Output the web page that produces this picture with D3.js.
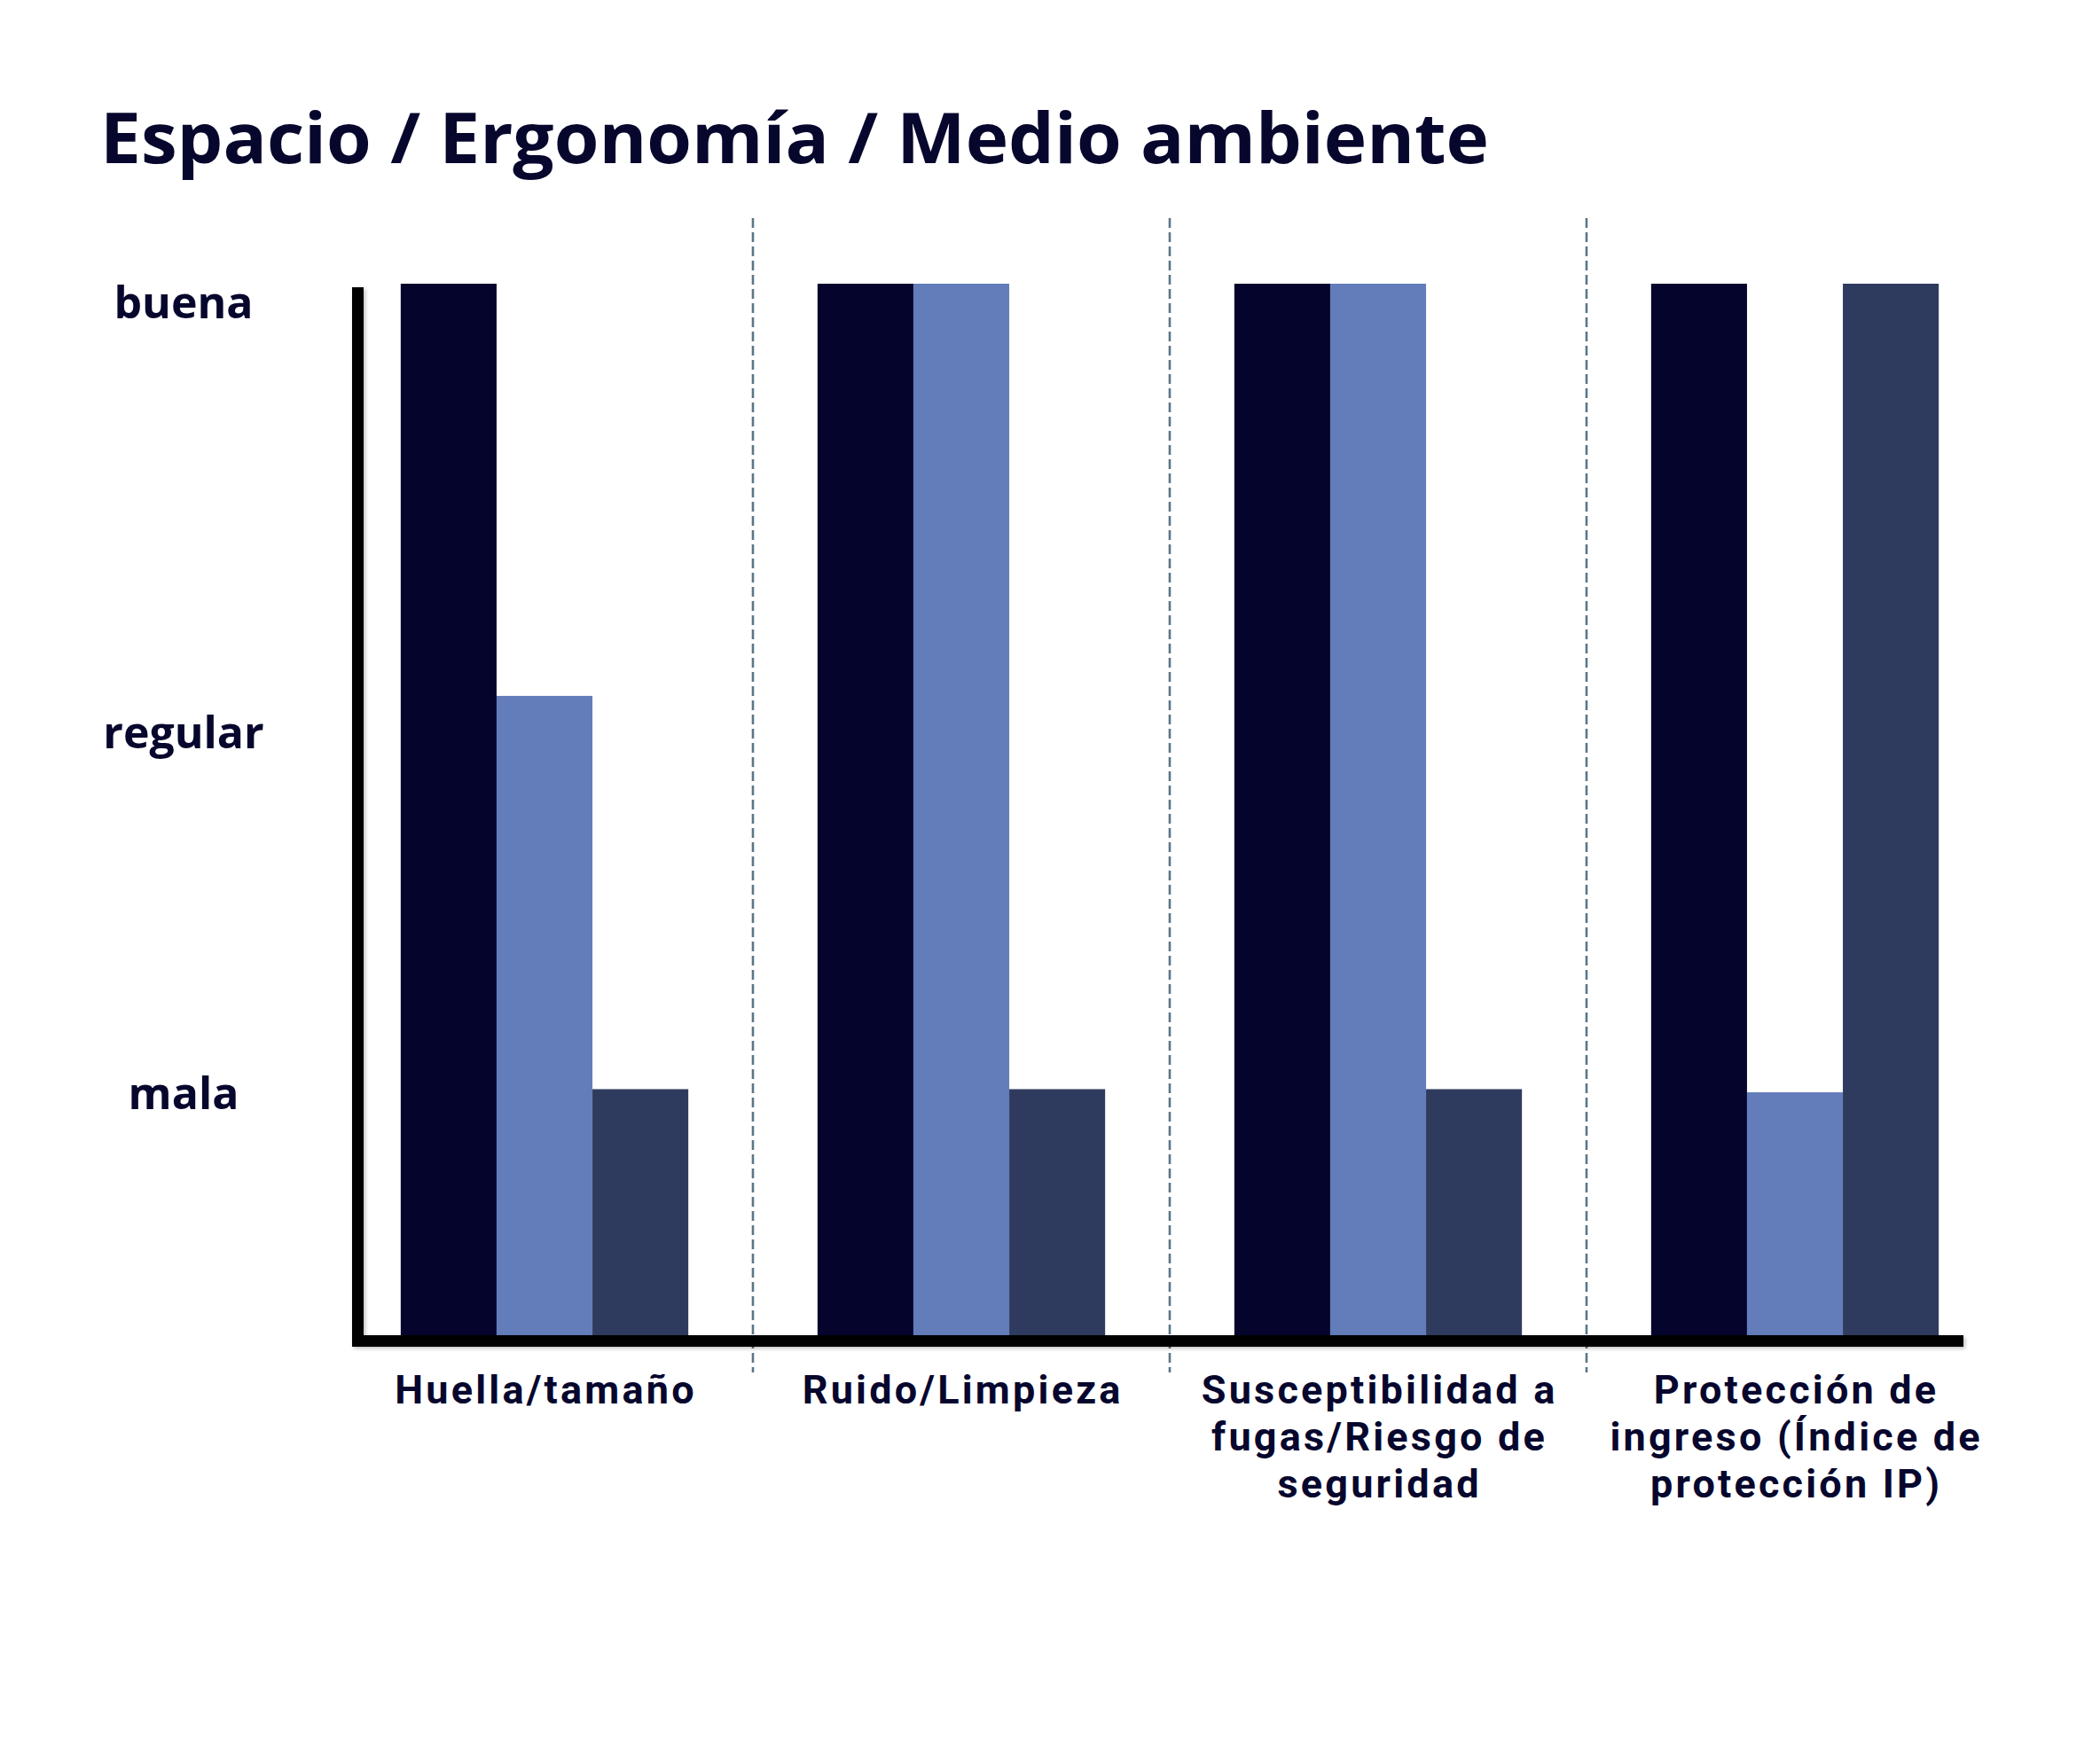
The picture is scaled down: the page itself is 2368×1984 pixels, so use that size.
<!DOCTYPE html>
<html>
<head>
<meta charset="utf-8">
<script src="https://cdn.jsdelivr.net/npm/d3@7"></script>
<style>
  html, body { margin: 0; padding: 0; background: #ffffff; }
  svg { display: block; }
  text { font-family: "Open Sans", "DejaVu Sans", sans-serif; font-weight: 700; fill: #07072e; }
  text.cat { font-family: Roboto, "Open Sans", sans-serif; }
</style>
</head>
<body>
<div id="chart"></div>
<script>
// ---------- data ----------
const title = "Espacio / Ergonomía / Medio ambiente";
const categories = ["Huella/tamaño", "Ruido/Limpieza", "Susceptibilidad a fugas/Riesgo de seguridad", "Protección de ingreso (Índice de protección IP)"];
const categoryLines = [
  ["Huella/tamaño"],
  ["Ruido/Limpieza"],
  ["Susceptibilidad a", "fugas/Riesgo de", "seguridad"],
  ["Protección de", "ingreso (Índice de", "protección IP)"]
];
const seriesNames = ["Serie 1", "Serie 2", "Serie 3"];
const series1 = [100, 100, 100, 100];
const series2 = [60.8, 100, 100, 23.1];
const series3 = [23.4, 23.4, 23.4, 100];
const levelLabels = ["buena", "regular", "mala"];
const levelLabelValues = [96.7, 55.8, 21.5];
const seriesColors = ["#04042c", "#637cba", "#2f3b5e"];

// ---------- layout ----------
const W = 2368, H = 1984;
const svg = d3.select("#chart").append("svg").attr("width", W).attr("height", H);
svg.append("rect").attr("width", W).attr("height", H).attr("fill", "#fff");

const y = d3.scaleLinear().domain([0, 100]).range([1506, 320]);
const x0 = d3.scaleBand().domain(categories).range([379, 2259]).paddingInner(0.31).paddingOuter(0.155);
const x1 = d3.scaleBand().domain(seriesNames).range([0, x0.bandwidth()]);

const allSeries = [series1, series2, series3];
const rows = categories.map((c, i) => ({
  cat: c,
  vals: seriesNames.map((s, j) => ({ s, v: allSeries[j][i], color: seriesColors[j] }))
}));

// title
svg.append("text")
  .attr("x", 113).attr("y", 184)
  .attr("font-size", 78)
  .attr("textLength", 1566)
  .attr("lengthAdjust", "spacingAndGlyphs")
  .text(title);

// dashed separators between groups
const step = x0.step();
const seps = categories.slice(1).map(c => x0(c) - step * x0.paddingInner() / 2);
svg.append("g").selectAll("line").data(seps).join("line")
  .attr("x1", d => d).attr("x2", d => d)
  .attr("y1", 246).attr("y2", 1548)
  .attr("stroke", "#5b7686").attr("stroke-width", 2.6)
  .attr("stroke-dasharray", "11,5");

// bars
const g = svg.append("g").selectAll("g").data(rows).join("g")
  .attr("transform", d => `translate(${x0(d.cat)},0)`);
g.selectAll("rect").data(d => d.vals).join("rect")
  .attr("x", d => x1(d.s))
  .attr("width", x1.bandwidth())
  .attr("y", d => y(d.v))
  .attr("height", d => y(0) - y(d.v))
  .attr("fill", d => d.color);

// axes (thick black with soft shadow)
const defs = svg.append("defs");
const f = defs.append("filter").attr("id", "sh").attr("x", "-5%").attr("y", "-5%").attr("width", "110%").attr("height", "110%");
f.append("feDropShadow").attr("dx", 2).attr("dy", 2).attr("stdDeviation", 2).attr("flood-color", "#000").attr("flood-opacity", 0.25);
const axisG = svg.append("g").attr("filter", "url(#sh)");
axisG.append("line")
  .attr("x1", 403.5).attr("x2", 403.5)
  .attr("y1", y(100) + 4).attr("y2", y(0) + 13)
  .attr("stroke", "#000").attr("stroke-width", 13);
axisG.append("line")
  .attr("x1", 397).attr("x2", 2214)
  .attr("y1", y(0) + 6.5).attr("y2", y(0) + 6.5)
  .attr("stroke", "#000").attr("stroke-width", 13);

// y level labels
svg.append("g").selectAll("text").data(levelLabels).join("text")
  .attr("x", 207)
  .attr("y", (d, i) => y(levelLabelValues[i]))
  .attr("text-anchor", "middle")
  .attr("font-size", 50)
  .text(d => d);

// category labels: one text element per line
const lineH = 53;
const labG = svg.append("g").selectAll("g").data(rows).join("g");
labG.each(function (d, i) {
  const cx = x0(d.cat) + x0.bandwidth() / 2;
  d3.select(this).selectAll("text").data(categoryLines[i]).join("text")
    .attr("class", "cat")
    .attr("text-anchor", "middle")
    .attr("font-size", 45)
    .attr("letter-spacing", 3.2)
    .attr("x", cx + 1.6)
    .attr("y", (t, k) => 1583 + k * lineH)
    .text(t => t);
});
</script>
</body>
</html>
